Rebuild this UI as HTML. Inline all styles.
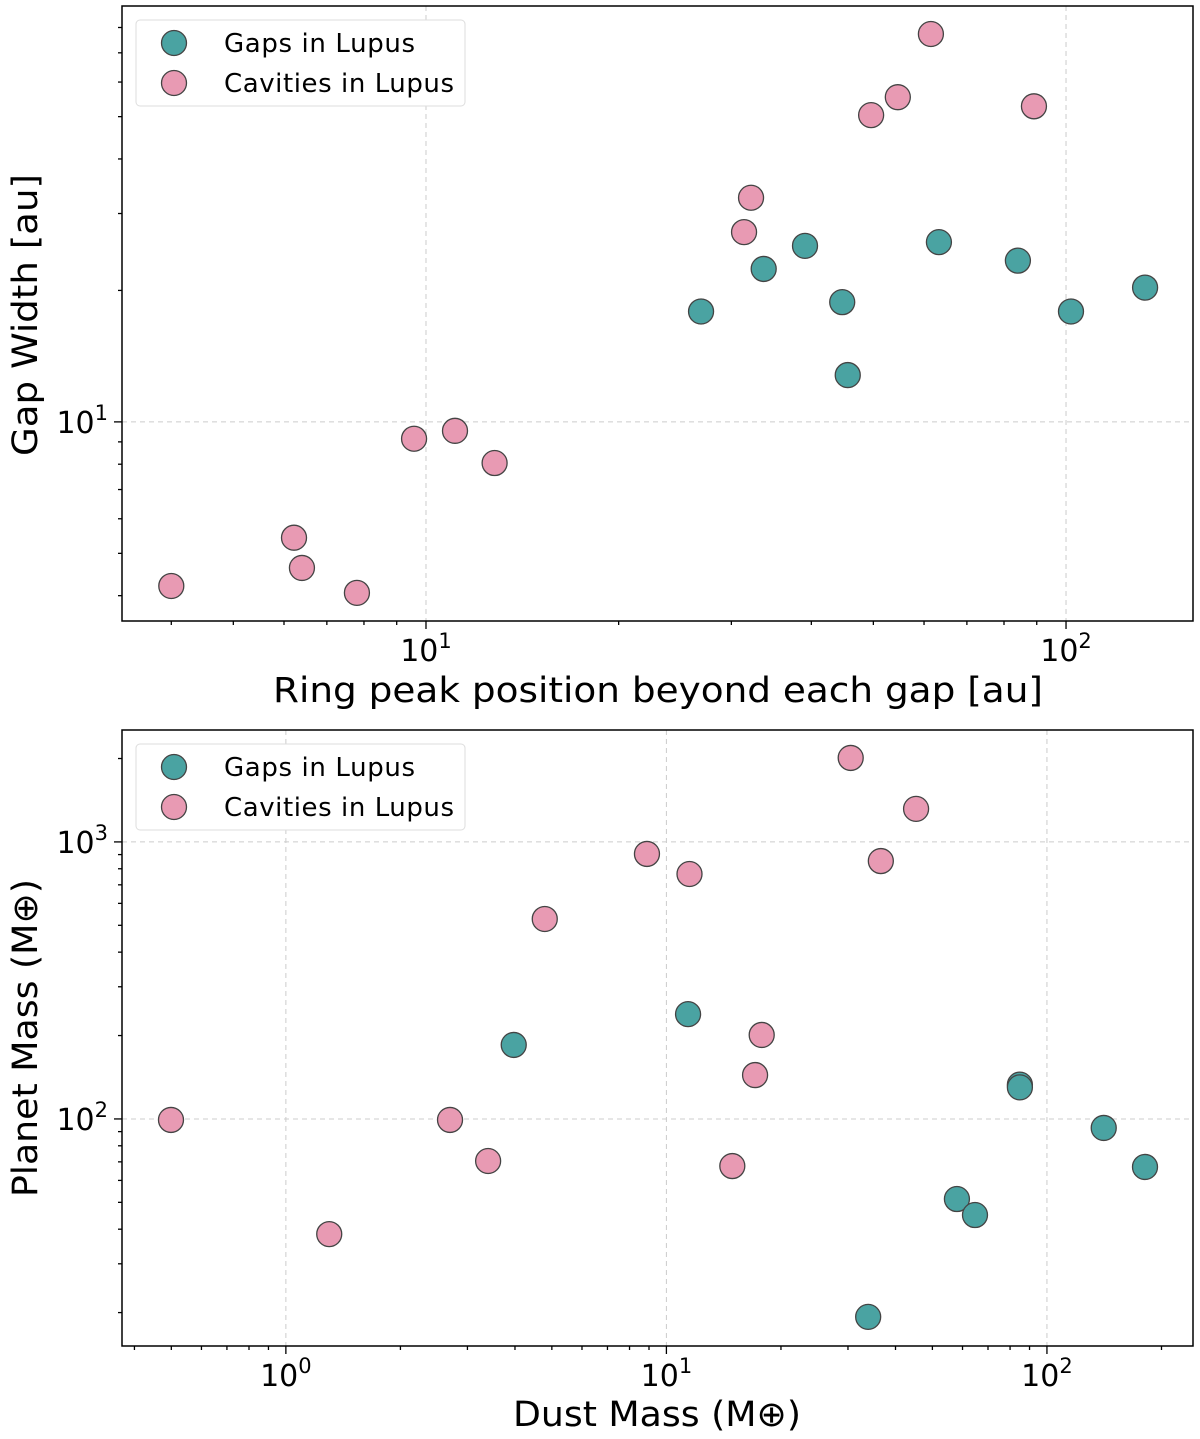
<!DOCTYPE html>
<html><head><meta charset="utf-8"><style>
body{margin:0;background:#fff;}
svg{display:block;font-family:"DejaVu Sans","Liberation Sans",sans-serif;}
</style></head><body>
<svg id="c" width="1200" height="1439"></svg>
<script>
const gapRingX=[26.9,33.7,39.1,44.7,45.6,63.3,84.1,101.8,132.9];
const gapWidthY=[17.9,22.4,25.3,18.8,12.8,25.8,23.4,17.9,20.3];
const cavRingX=[4.0,6.22,6.40,7.80,9.58,11.1,12.8,31.4,32.2,49.6,54.6,61.5,89.1];
const cavWidthY=[4.21,5.43,4.63,4.06,9.15,9.54,8.05,27.2,32.6,50.4,55.4,77.3,52.8];
const gapDustX=[3.97,11.4,33.9,58.0,64.7,84.9,84.9,141,181];
const gapPlanetY=[185,239,19.3,51.4,45.0,133,130,92.8,67.1];
const cavDustX=[0.499,1.30,2.70,3.40,4.79,8.89,11.5,14.9,17.1,17.8,30.5,36.6,45.3];
const cavPlanetY=[99.2,38.4,99.2,70.5,527,905,766,67.6,144,201,2010,853,1316];
const topXTicks=[1,2];const topYTicks=[1];
const botXTicks=[0,1,2];const botYTicks=[2,3];

const NS="http://www.w3.org/2000/svg";
const svg=document.getElementById('c');
function mk(t,a,p){const e=document.createElementNS(NS,t);for(const k in a)e.setAttribute(k,a[k]);(p||svg).appendChild(e);return e;}
const TEAL="#4aa3a2",PINK="#e89ab3";

function panel(o){
  const g=mk('g',{});
  
  
  const L=o.l,R=o.r,T=o.t,B=o.b;
  const lx=Math.log10(o.xmin),hx=Math.log10(o.xmax),ly=Math.log10(o.ymin),hy=Math.log10(o.ymax);
  const sx=v=>L+(Math.log10(v)-lx)/(hx-lx)*(R-L);
  const sy=v=>B-(Math.log10(v)-ly)/(hy-ly)*(B-T);
  o.xt.forEach(p=>{const x=sx(Math.pow(10,p));const l=mk('line',{x1:x,x2:x,y1:T,y2:B,stroke:'#ccc','stroke-dasharray':'5,4','stroke-width':1},g);});
  o.yt.forEach(p=>{const y=sy(Math.pow(10,p));const l=mk('line',{x1:L,x2:R,y1:y,y2:y,stroke:'#ccc','stroke-dasharray':'5,4','stroke-width':1},g);});
  for(let d=Math.floor(lx);d<=Math.ceil(hx);d++)for(let m=1;m<10;m++){const v=m*Math.pow(10,d);if(v<o.xmin||v>o.xmax)continue;const x=sx(v);mk('line',{x1:x,x2:x,y1:B,y2:B+(m==1?8:4),stroke:'#000','stroke-width':1.3},g);}
  for(let d=Math.floor(ly);d<=Math.ceil(hy);d++)for(let m=1;m<10;m++){const v=m*Math.pow(10,d);if(v<o.ymin||v>o.ymax)continue;const y=sy(v);mk('line',{x1:L,x2:L-(m==1?8:4),y1:y,y2:y,stroke:'#000','stroke-width':1.3},g);}
  o.xt.forEach(p=>{const x=sx(Math.pow(10,p));const t=mk('text',{x:x,y:B+40,'font-size':30,'text-anchor':'middle'},g);t.textContent='10';const s=mk('tspan',{dy:-13,'font-size':21},t);s.textContent=p;});
  o.yt.forEach(p=>{const y=sy(Math.pow(10,p));const t=mk('text',{x:L-14,y:y+11,'font-size':30,'text-anchor':'end'},g);t.textContent='10';const s=mk('tspan',{dy:-13,'font-size':21},t);s.textContent=p;});
  mk('rect',{x:L,y:T,width:R-L,height:B-T,fill:'none',stroke:'#000','stroke-width':1.5},g);
  o.series.forEach(s=>{s.x.forEach((xv,i)=>{const c=mk('circle',{cx:sx(xv),cy:sy(s.y[i]),r:12.5,fill:s.c,stroke:'#444','stroke-width':1.3},g);});});
  const lg=mk('g',{},g);
  mk('rect',{x:L+14,y:T+14,width:329,height:86,rx:4,fill:'#fff',stroke:'#ddd'},lg);
  [['Gaps in Lupus',TEAL],['Cavities in Lupus',PINK]].forEach((e,i)=>{
    const y=T+37+i*40;
    mk('circle',{cx:L+52,cy:y,r:12.5,fill:e[1],stroke:'#444','stroke-width':1.3},lg);
    const t=mk('text',{x:L+102,y:y+9,'font-size':26,textLength:e[0].length>14?230:191},lg);t.textContent=e[0];
    
  });
  const xl=mk('text',{x:o.xlc,y:o.xly,'font-size':35,'text-anchor':'middle',textLength:o.xlw,lengthAdjust:'spacingAndGlyphs'},g);xl.textContent=o.xlab;
  
  const yl=mk('text',{x:0,y:0,'font-size':35,'text-anchor':'middle',textLength:o.ylw,lengthAdjust:'spacingAndGlyphs',transform:`translate(37,${o.ylc}) rotate(-90)`},g);yl.textContent=o.ylab;
  
}
panel({name:'top-panel',l:122,r:1193,t:6,b:621,xmin:3.35,xmax:157.9,ymin:3.50,ymax:89.6,xt:topXTicks,yt:topYTicks,
  xlab:'Ring peak position beyond each gap [au]',ylab:'Gap Width [au]',xly:702,xlc:658,xlw:770,ylc:315,ylw:282,
  series:[{x:gapRingX,y:gapWidthY,c:TEAL,n:'gap-point'},{x:cavRingX,y:cavWidthY,c:PINK,n:'cavity-point'}]});
panel({name:'bottom-panel',l:122,r:1193,t:730,b:1346,xmin:0.371,xmax:242,ymin:15.15,ymax:2535,xt:botXTicks,yt:botYTicks,
  xlab:'Dust Mass (M\u2295)',ylab:'Planet Mass (M\u2295)',xly:1426,xlc:657,xlw:288,ylc:1038,ylw:318,
  series:[{x:gapDustX,y:gapPlanetY,c:TEAL,n:'gap-point'},{x:cavDustX,y:cavPlanetY,c:PINK,n:'cavity-point'}]});
</script>
</body></html>
